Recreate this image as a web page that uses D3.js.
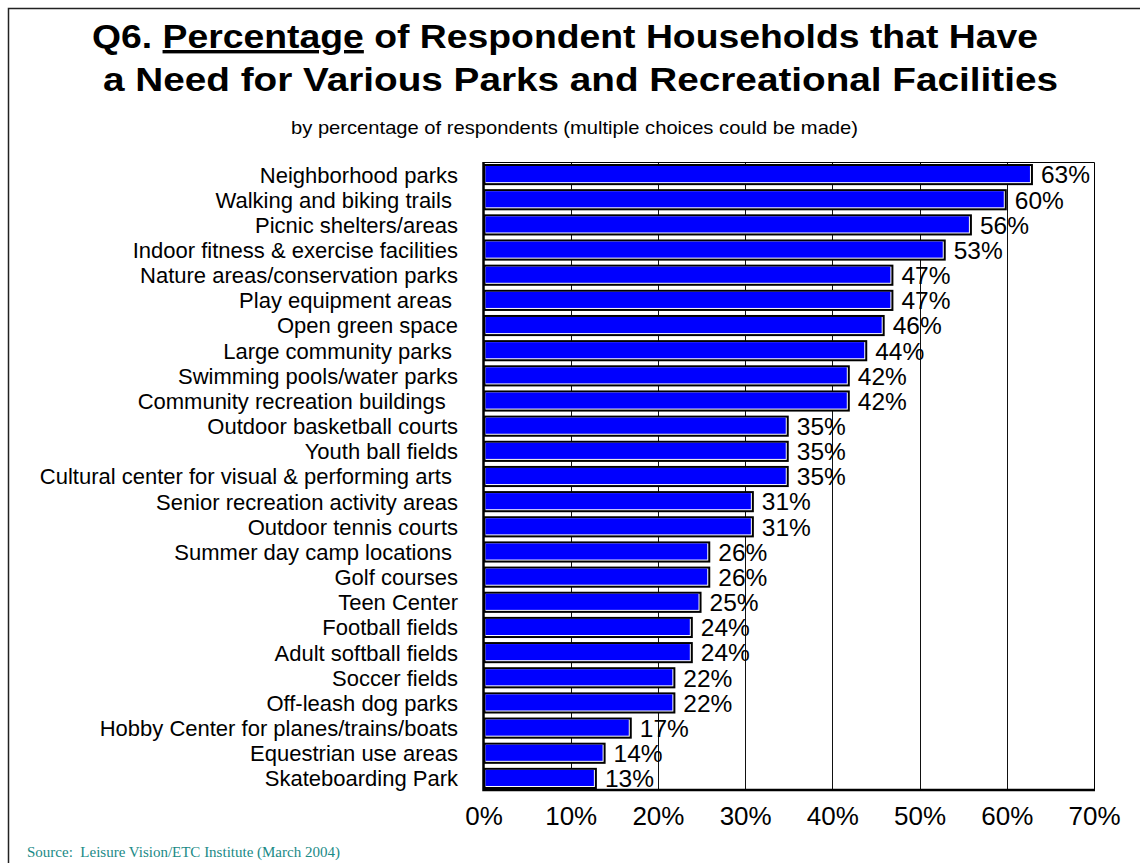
<!DOCTYPE html>
<html>
<head>
<meta charset="utf-8">
<script src="https://cdn.jsdelivr.net/npm/d3@7"></script>
<style>
  html, body { margin: 0; padding: 0; background: #fff; }
  svg { display: block; }
  text { font-family: "Liberation Sans", Arial, sans-serif; }
</style>
</head>
<body>
<svg id="chart" width="1140" height="863"></svg>
<script>
// Facilities, in ranked order
const facilities = [
  "Neighborhood parks",
  "Walking and biking trails ",
  "Picnic shelters/areas",
  "Indoor fitness & exercise facilities",
  "Nature areas/conservation parks",
  "Play equipment areas ",
  "Open green space",
  "Large community parks ",
  "Swimming pools/water parks",
  "Community recreation buildings  ",
  "Outdoor basketball courts",
  "Youth ball fields",
  "Cultural center for visual & performing arts ",
  "Senior recreation activity areas",
  "Outdoor tennis courts",
  "Summer day camp locations ",
  "Golf courses",
  "Teen Center",
  "Football fields",
  "Adult softball fields",
  "Soccer fields",
  "Off-leash dog parks",
  "Hobby Center for planes/trains/boats",
  "Equestrian use areas",
  "Skateboarding Park"
];

// Percentage of households with a need for each facility
const needPct = [63, 60, 56, 53, 47, 47, 46, 44, 42, 42, 35, 35, 35, 31, 31, 26, 26, 25, 24, 24, 22, 22, 17, 14, 13];

const xTicks = [0, 10, 20, 30, 40, 50, 60, 70];

const titleLine1 = ["Q6. ", "Percentage", " of Respondent Households that Have"];
const titleLine2 = "a Need for Various Parks and Recreational Facilities";
const subtitle = "by percentage of respondents (multiple choices could be made)";
const sourceNote = "Source:  Leisure Vision/ETC Institute (March 2004)";

const rows = facilities.map((name, i) => ({ name, value: needPct[i] }));

const svg = d3.select("#chart");

// outer frame of the slide
svg.append("rect")
  .attr("x", 8.5).attr("y", 8.5)
  .attr("width", 1160).attr("height", 900)
  .attr("fill", "none").attr("stroke", "#222").attr("stroke-width", 1.5);

// title block
const t1 = svg.append("text")
  .attr("x", 92).attr("y", 48)
  .attr("textLength", 946).attr("lengthAdjust", "spacingAndGlyphs")
  .attr("font-size", 34).attr("font-weight", "bold").attr("fill", "#000");
t1.append("tspan").text(titleLine1[0]);
t1.append("tspan").attr("text-decoration", "underline").text(titleLine1[1]);
t1.append("tspan").text(titleLine1[2]);

svg.append("text")
  .attr("x", 103).attr("y", 91)
  .attr("textLength", 955).attr("lengthAdjust", "spacingAndGlyphs")
  .attr("font-size", 34).attr("font-weight", "bold").attr("fill", "#000")
  .text(titleLine2);

svg.append("text")
  .attr("x", 291).attr("y", 134)
  .attr("textLength", 567).attr("lengthAdjust", "spacingAndGlyphs")
  .attr("font-size", 19).attr("fill", "#000")
  .text(subtitle);

// plot area
const x = d3.scaleLinear().domain([0, 70]).range([483.5, 1094]);
const y = d3.scaleBand().domain(facilities).range([162, 791]).paddingInner(0.16).paddingOuter(0.08);

const plot = svg.append("g");

// vertical gridlines
plot.selectAll("line.grid")
  .data(xTicks.filter(d => d > 0 && d < 70))
  .join("line")
  .attr("class", "grid")
  .attr("x1", d => Math.round(x(d)) + 0.5).attr("x2", d => Math.round(x(d)) + 0.5)
  .attr("y1", 162).attr("y2", 791)
  .attr("stroke", "#111").attr("stroke-width", 1);

// frame: top and right edges
plot.append("path")
  .attr("d", `M${x(0)},162.5 H${Math.round(x(70)) + 0.5} V791`)
  .attr("fill", "none").attr("stroke", "#000").attr("stroke-width", 1);

// bars: black outline, white inner edge, blue face
const bars = plot.selectAll("g.bar").data(rows).join("g").attr("class", "bar");
bars.append("rect")
  .attr("x", x(0)).attr("y", d => y(d.name))
  .attr("width", d => x(d.value) - x(0)).attr("height", y.bandwidth())
  .attr("fill", "#000");
bars.append("rect")
  .attr("x", x(0) + 2).attr("y", d => y(d.name) + 2)
  .attr("width", d => x(d.value) - x(0) - 4).attr("height", y.bandwidth() - 4)
  .attr("fill", "#fff");
bars.append("rect")
  .attr("x", x(0) + 2).attr("y", d => y(d.name) + 2)
  .attr("width", d => x(d.value) - x(0) - 5).attr("height", y.bandwidth() - 5)
  .attr("fill", "#0000ff");

// value labels
plot.selectAll("text.val").data(rows).join("text")
  .attr("class", "val")
  .attr("x", d => x(d.value) + 8)
  .attr("y", d => y(d.name) + y.bandwidth() / 2)
  .attr("dy", "0.36em")
  .attr("font-size", 24.5).attr("fill", "#000")
  .text(d => d.value + "%");

// category labels
plot.selectAll("text.cat").data(rows).join("text")
  .attr("class", "cat")
  .attr("x", 458)
  .attr("y", d => y(d.name) + y.bandwidth() / 2)
  .attr("dy", "0.36em")
  .attr("text-anchor", "end")
  .attr("font-size", 22).attr("fill", "#000")
  .style("white-space", "pre")
  .text(d => d.name);

// left and bottom axis lines
plot.append("path")
  .attr("d", `M${x(0)},162 V790 H${Math.round(x(70)) + 1}`)
  .attr("fill", "none").attr("stroke", "#000").attr("stroke-width", 2.5);

// x axis tick labels
const xAxis = d3.axisBottom(x).tickValues(xTicks).tickFormat(d => d + "%").tickSize(0).tickPadding(0);
const ax = svg.append("g").attr("transform", "translate(0,800)").call(xAxis);
ax.select(".domain").remove();
ax.selectAll("text")
  .attr("font-family", "Liberation Sans, Arial, sans-serif")
  .attr("font-size", 26).attr("fill", "#000")
  .attr("dy", "0.95em");

// source note
svg.append("text")
  .attr("x", 27).attr("y", 857)
  .style("font-family", "'Liberation Serif', 'Times New Roman', serif")
  .attr("font-size", 15).attr("fill", "#1a8a86")
  .style("white-space", "pre")
  .text(sourceNote);
</script>
</body>
</html>
